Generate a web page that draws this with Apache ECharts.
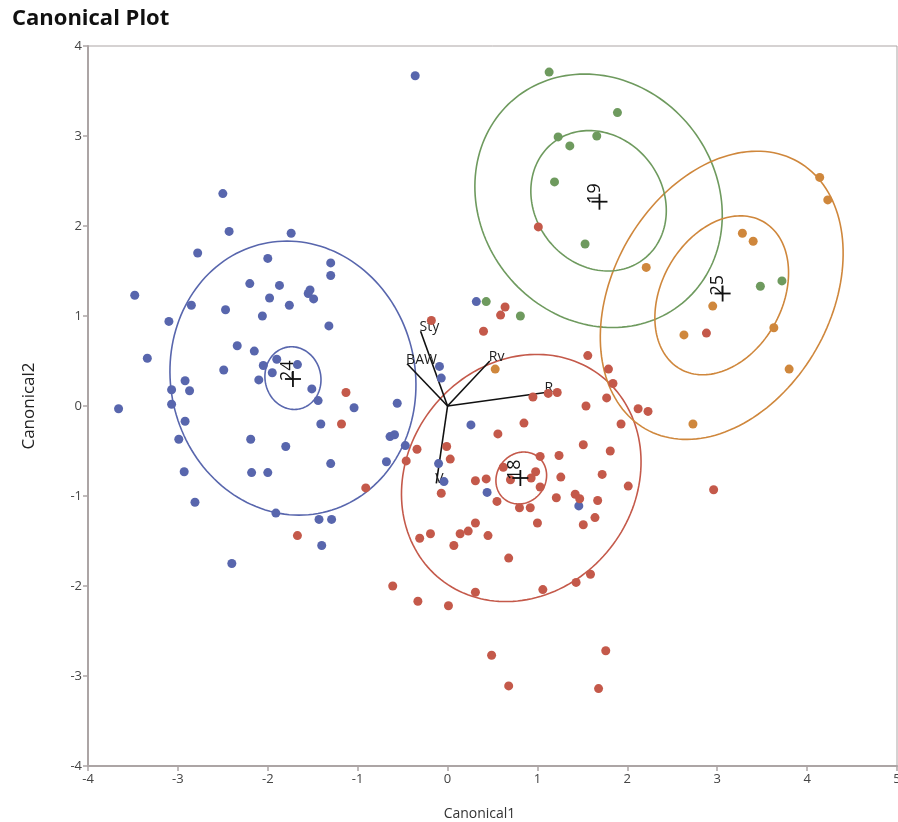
<!DOCTYPE html>
<html><head><meta charset="utf-8">
<script src="https://cdn.jsdelivr.net/npm/echarts@6/dist/echarts.min.js"></script>
<style>html,body{margin:0;padding:0;background:#fff}#chart{width:898px;height:822px}</style>
</head><body><div id="chart"></div>
<script>
// ---- data ----
const groupNames = ['24', '18', '19', '25'];
const points24 = [[-0.36,3.67],[-2.50,2.36],[-2.43,1.94],[-1.74,1.92],[-2.78,1.70],[-2.00,1.64],[-1.30,1.59],[-1.30,1.45],
  [-3.48,1.23],[-2.20,1.36],[-1.87,1.34],[-1.53,1.29],[-1.55,1.25],[-1.49,1.19],[-1.98,1.20],[-2.85,1.12],[-2.47,1.07],
  [-1.76,1.12],[-3.10,0.94],[-2.06,1.00],[-1.32,0.89],[-3.34,0.53],[-2.34,0.67],[-2.15,0.61],[-1.90,0.52],[-2.05,0.45],
  [-1.67,0.46],[-1.95,0.37],[-2.49,0.40],[-2.10,0.29],[-2.92,0.28],[-3.07,0.18],[-2.87,0.17],[-3.07,0.02],[-3.66,-0.03],
  [-1.51,0.19],[-1.44,0.06],[-1.04,-0.02],[-0.56,0.03],[-2.92,-0.17],[-1.41,-0.20],[-2.99,-0.37],[-2.19,-0.37],[-1.80,-0.45],
  [-0.64,-0.34],[-0.59,-0.32],[-0.47,-0.44],[-0.68,-0.62],[-1.30,-0.64],[-2.93,-0.73],[-2.18,-0.74],[-2.00,-0.74],[-2.81,-1.07],
  [-1.91,-1.19],[-1.43,-1.26],[-1.29,-1.26],[-1.40,-1.55],[-2.40,-1.75],[-0.09,0.44],[-0.07,0.31],[-0.10,-0.64],[-0.04,-0.84],
  [0.32,1.16],[0.26,-0.21],[0.44,-0.96],[1.46,-1.11]];
const points18 = [[-0.18,0.95],[-1.13,0.15],[-1.18,-0.20],[-0.91,-0.91],[-1.67,-1.44],[-0.34,-0.48],[-0.46,-0.61],[-0.01,-0.45],
  [0.03,-0.59],[-0.07,-0.97],[-0.31,-1.47],[-0.19,-1.42],[0.07,-1.55],[0.64,1.10],[0.59,1.01],[0.40,0.83],[1.56,0.56],[1.79,0.41],
  [1.84,0.25],[1.77,0.09],[2.12,-0.03],[2.23,-0.06],[0.95,0.10],[1.12,0.14],[1.22,0.15],[1.54,0.00],[0.85,-0.19],[1.93,-0.20],
  [0.56,-0.31],[1.51,-0.43],[1.81,-0.50],[1.24,-0.55],[1.03,-0.56],[0.62,-0.68],[0.98,-0.73],[0.93,-0.80],[0.70,-0.82],[1.26,-0.79],
  [1.72,-0.76],[2.01,-0.89],[0.31,-0.83],[0.43,-0.81],[1.03,-0.90],[1.42,-0.98],[1.47,-1.03],[1.21,-1.02],[1.67,-1.05],[0.55,-1.06],
  [0.80,-1.13],[0.92,-1.13],[1.64,-1.24],[1.51,-1.32],[1.00,-1.30],[0.31,-1.30],[0.23,-1.39],[0.14,-1.42],[0.45,-1.44],[0.68,-1.69],
  [1.59,-1.87],[1.43,-1.96],[1.06,-2.04],[0.31,-2.07],[-0.61,-2.00],[-0.33,-2.17],[0.01,-2.22],[0.49,-2.77],[1.76,-2.72],[0.68,-3.11],
  [1.68,-3.14],[1.01,1.99],[2.88,0.81],[2.96,-0.93]];
const points19 = [[1.13,3.71],[1.89,3.26],[1.23,2.99],[1.66,3.00],[1.36,2.89],[1.19,2.49],[1.53,1.80],[0.43,1.16],[0.81,1.00],
  [3.48,1.33],[3.72,1.39]];
const points25 = [[0.53,0.41],[2.21,1.54],[4.14,2.54],[4.23,2.29],[3.28,1.92],[3.40,1.83],[2.95,1.11],[3.63,0.87],[2.63,0.79],
  [3.80,0.41],[2.73,-0.20]];
const groupCenters = [[-1.72,0.30],[0.81,-0.80],[1.69,2.27],[3.06,1.25]];
// ellipse parameters per group: [cx, cy, semiMajor, semiMinor, angleDeg]
const outerEllipses = [[-1.72,0.31,1.53,1.36,-77.5],[0.82,-0.80,1.44,1.26,51.5],[1.68,2.28,1.47,1.31,-50.8],[3.05,1.23,1.71,1.21,60.2]];
const innerEllipses = [[-1.72,0.31,0.35,0.31,-77.5],[0.82,-0.80,0.30,0.27,51.5],[1.68,2.28,0.82,0.71,-52],[3.05,1.23,0.94,0.67,60.7]];
const rayNames = ['Sty', 'BAW', 'Rv', 'R', 'V'];
const rayEnds = [[-0.30,0.83],[-0.45,0.47],[0.47,0.50],[1.09,0.15],[-0.125,-0.86]];
const rayOrigin = [0, 0];
const xRange = [-4, 5];
const yRange = [-4, 4];

// ---- chart ----
const groupColors = ['#5866ad', '#c4594a', '#6e9a5e', '#cf873c'];
const FONT = 'Open Sans';
const axisGray = '#aca5a5';
const chart = echarts.init(document.getElementById('chart'), null, {renderer: 'canvas'});

const ellipseData = [];
outerEllipses.forEach((e, g) => ellipseData.push(e.concat([g])));
innerEllipses.forEach((e, g) => ellipseData.push(e.concat([g])));

function renderEllipse(params, api) {
  const cx = api.value(0), cy = api.value(1), a = api.value(2), b = api.value(3);
  const ang = api.value(4) * Math.PI / 180, g = api.value(5);
  const pts = [];
  const N = 160;
  for (let i = 0; i <= N; i++) {
    const t = 2 * Math.PI * i / N;
    const ux = a * Math.cos(t), uy = b * Math.sin(t);
    pts.push(api.coord([cx + ux * Math.cos(ang) - uy * Math.sin(ang), cy + ux * Math.sin(ang) + uy * Math.cos(ang)]));
  }
  return {type: 'polyline', shape: {points: pts}, style: {fill: null, stroke: groupColors[g], lineWidth: 1.6}};
}

function renderCenter(params, api) {
  const p = api.coord([api.value(0), api.value(1)]);
  const h = 8;
  return {type: 'group', children: [
    {type: 'line', shape: {x1: p[0] - h, y1: p[1], x2: p[0] + h, y2: p[1]}, style: {stroke: '#111', lineWidth: 1.8}},
    {type: 'line', shape: {x1: p[0], y1: p[1] - h, x2: p[0], y2: p[1] + h}, style: {stroke: '#111', lineWidth: 1.8}},
    {type: 'text', x: p[0] + 4, y: p[1] + 2, rotation: Math.PI / 2,
      style: {text: groupNames[params.dataIndex], fill: '#111', font: '18px "' + FONT + '"', align: 'left', verticalAlign: 'bottom'}}
  ]};
}

function renderRay(params, api) {
  const o = api.coord(rayOrigin);
  const p = api.coord([api.value(0), api.value(1)]);
  return {type: 'group', children: [
    {type: 'line', shape: {x1: o[0], y1: o[1], x2: p[0], y2: p[1]}, style: {stroke: '#111', lineWidth: 1.6}},
    {type: 'text', x: p[0] - 1, y: p[1] + 3, style: {text: rayNames[params.dataIndex], fill: '#222', font: '14px "' + FONT + '"', align: 'left', verticalAlign: 'bottom'}}
  ]};
}

const pointSets = [points24, points18, points19, points25];
const series = [
  {type: 'custom', name: 'ellipses', renderItem: renderEllipse, data: ellipseData, encode: {x: 0, y: 1}, z: 2, silent: true},
  {type: 'custom', name: 'rays', renderItem: renderRay, data: rayEnds, encode: {x: 0, y: 1}, z: 3, silent: true}
];
pointSets.forEach((pts, g) => series.push({
  type: 'scatter', name: groupNames[g], data: pts, symbolSize: 9, z: 4,
  itemStyle: {color: groupColors[g], opacity: 1}
}));
series.push({type: 'custom', name: 'centers', renderItem: renderCenter, data: groupCenters, encode: {x: 0, y: 1}, z: 5, silent: true});

chart.setOption({
  animation: false,
  backgroundColor: '#fff',
  textStyle: {fontFamily: FONT},
  title: {text: 'Canonical Plot', left: 7, top: 3, textStyle: {fontSize: 22, fontWeight: 'bold', color: '#111', fontFamily: FONT}},
  grid: {left: 88, right: 1, top: 46, bottom: 56, show: true, borderColor: axisGray, borderWidth: 1,
    containLabel: false, outerBoundsMode: 'none'},
  xAxis: {
    type: 'value', min: xRange[0], max: xRange[1], interval: 1,
    name: 'Canonical1', nameLocation: 'middle', nameGap: 41,
    nameTextStyle: {fontSize: 14, color: '#333', fontFamily: FONT, padding: [0, 26, 0, 0]},
    axisLine: {show: true, onZero: false, lineStyle: {color: axisGray, width: 2}},
    axisTick: {show: true, length: 5, lineStyle: {color: axisGray, width: 1.5}},
    axisLabel: {color: '#444', fontSize: 13, margin: 7, fontFamily: FONT},
    splitLine: {show: false}
  },
  yAxis: {
    type: 'value', min: yRange[0], max: yRange[1], interval: 1,
    name: 'Canonical2', nameLocation: 'middle', nameGap: 50,
    nameTextStyle: {fontSize: 17, color: '#222', fontFamily: FONT},
    axisLine: {show: true, onZero: false, lineStyle: {color: axisGray, width: 2}},
    axisTick: {show: true, length: 5, lineStyle: {color: axisGray, width: 1.5}},
    axisLabel: {color: '#444', fontSize: 13, margin: 6, fontFamily: FONT},
    splitLine: {show: false}
  },
  series: series
});
</script>
</body></html>
